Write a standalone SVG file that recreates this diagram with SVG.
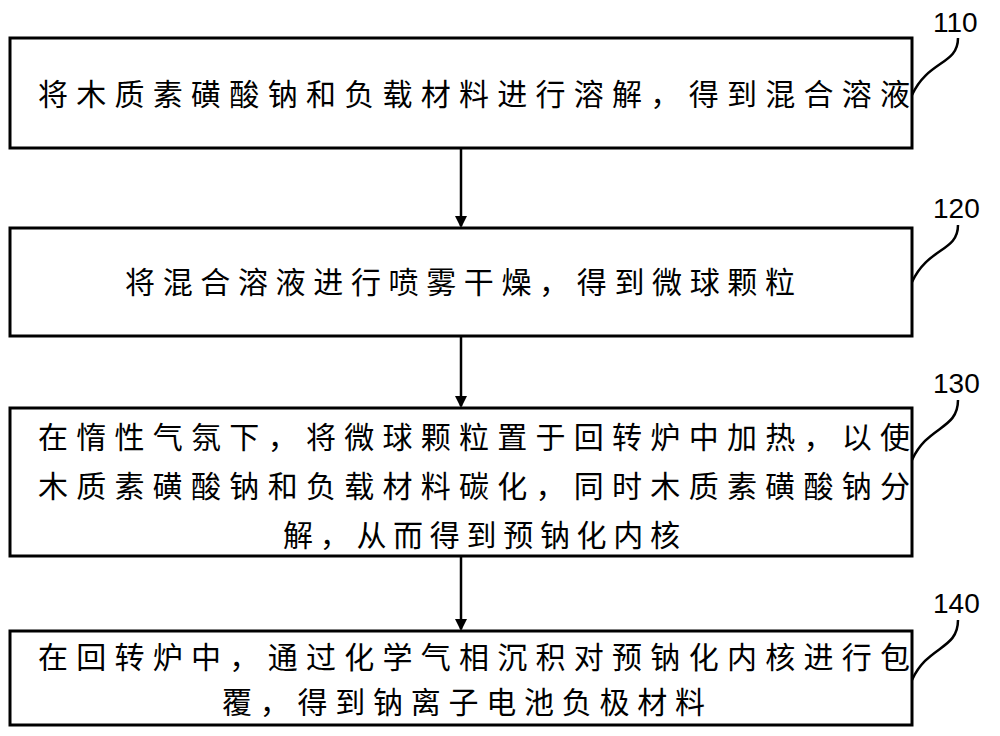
<svg xmlns="http://www.w3.org/2000/svg" width="1000" height="736" viewBox="0 0 1000 736">
<style>
.b{fill:#fff;stroke:#000;stroke-width:3}
.t{font-family:"Noto Sans CJK SC","Noto Sans CJK JP",sans-serif;font-size:30px;fill:#000}
.l{font-family:"Liberation Sans",Arial,sans-serif;font-size:28px;fill:#000}
.c{fill:none;stroke:#000;stroke-width:2.5}
</style>
<defs><marker id="a" markerWidth="12" markerHeight="12" refX="10" refY="6" orient="auto" markerUnits="userSpaceOnUse"><path d="M0,0 L12,6 L0,12 z" fill="#000"/></marker></defs>
<g id="n110"><rect class="b" x="10" y="38" width="902" height="110"/><text class="t" x="38" y="105" textLength="872" lengthAdjust="spacing">将木质素磺酸钠和负载材料进行溶解，得到混合溶液</text><text class="l" x="933" y="32">110</text><path class="c" d="M912,95 C928,60 958,65 958,38"/></g>
<g id="n120"><rect class="b" x="10" y="228" width="902" height="108"/><text class="t" x="125" y="293" textLength="670" lengthAdjust="spacing">将混合溶液进行喷雾干燥，得到微球颗粒</text><text class="l" x="933" y="218">120</text><path class="c" d="M912,282 C928,247 958,252 958,225"/></g>
<g id="n130"><rect class="b" x="10" y="408" width="902" height="148"/><text class="t" x="38" y="448" textLength="872" lengthAdjust="spacing">在惰性气氛下，将微球颗粒置于回转炉中加热，以使</text><text class="t" x="38" y="497" textLength="872" lengthAdjust="spacing">木质素磺酸钠和负载材料碳化，同时木质素磺酸钠分</text><text class="t" x="283" y="546" textLength="397" lengthAdjust="spacing">解，从而得到预钠化内核</text><text class="l" x="933" y="393">130</text><path class="c" d="M912,460 C928,425 958,430 958,400"/></g>
<g id="n140"><rect class="b" x="10" y="631" width="902" height="94"/><text class="t" x="38" y="668" textLength="872" lengthAdjust="spacing">在回转炉中，通过化学气相沉积对预钠化内核进行包</text><text class="t" x="222" y="713" textLength="483" lengthAdjust="spacing">覆，得到钠离子电池负极材料</text><text class="l" x="933" y="613">140</text><path class="c" d="M912,680 C928,645 958,650 958,620"/></g>
<g id="connectors">
<line class="c" x1="461" y1="148" x2="461" y2="226" marker-end="url(#a)"/>
<line class="c" x1="461" y1="336" x2="461" y2="406" marker-end="url(#a)"/>
<line class="c" x1="461" y1="556" x2="461" y2="629" marker-end="url(#a)"/>
</g>
</svg>
